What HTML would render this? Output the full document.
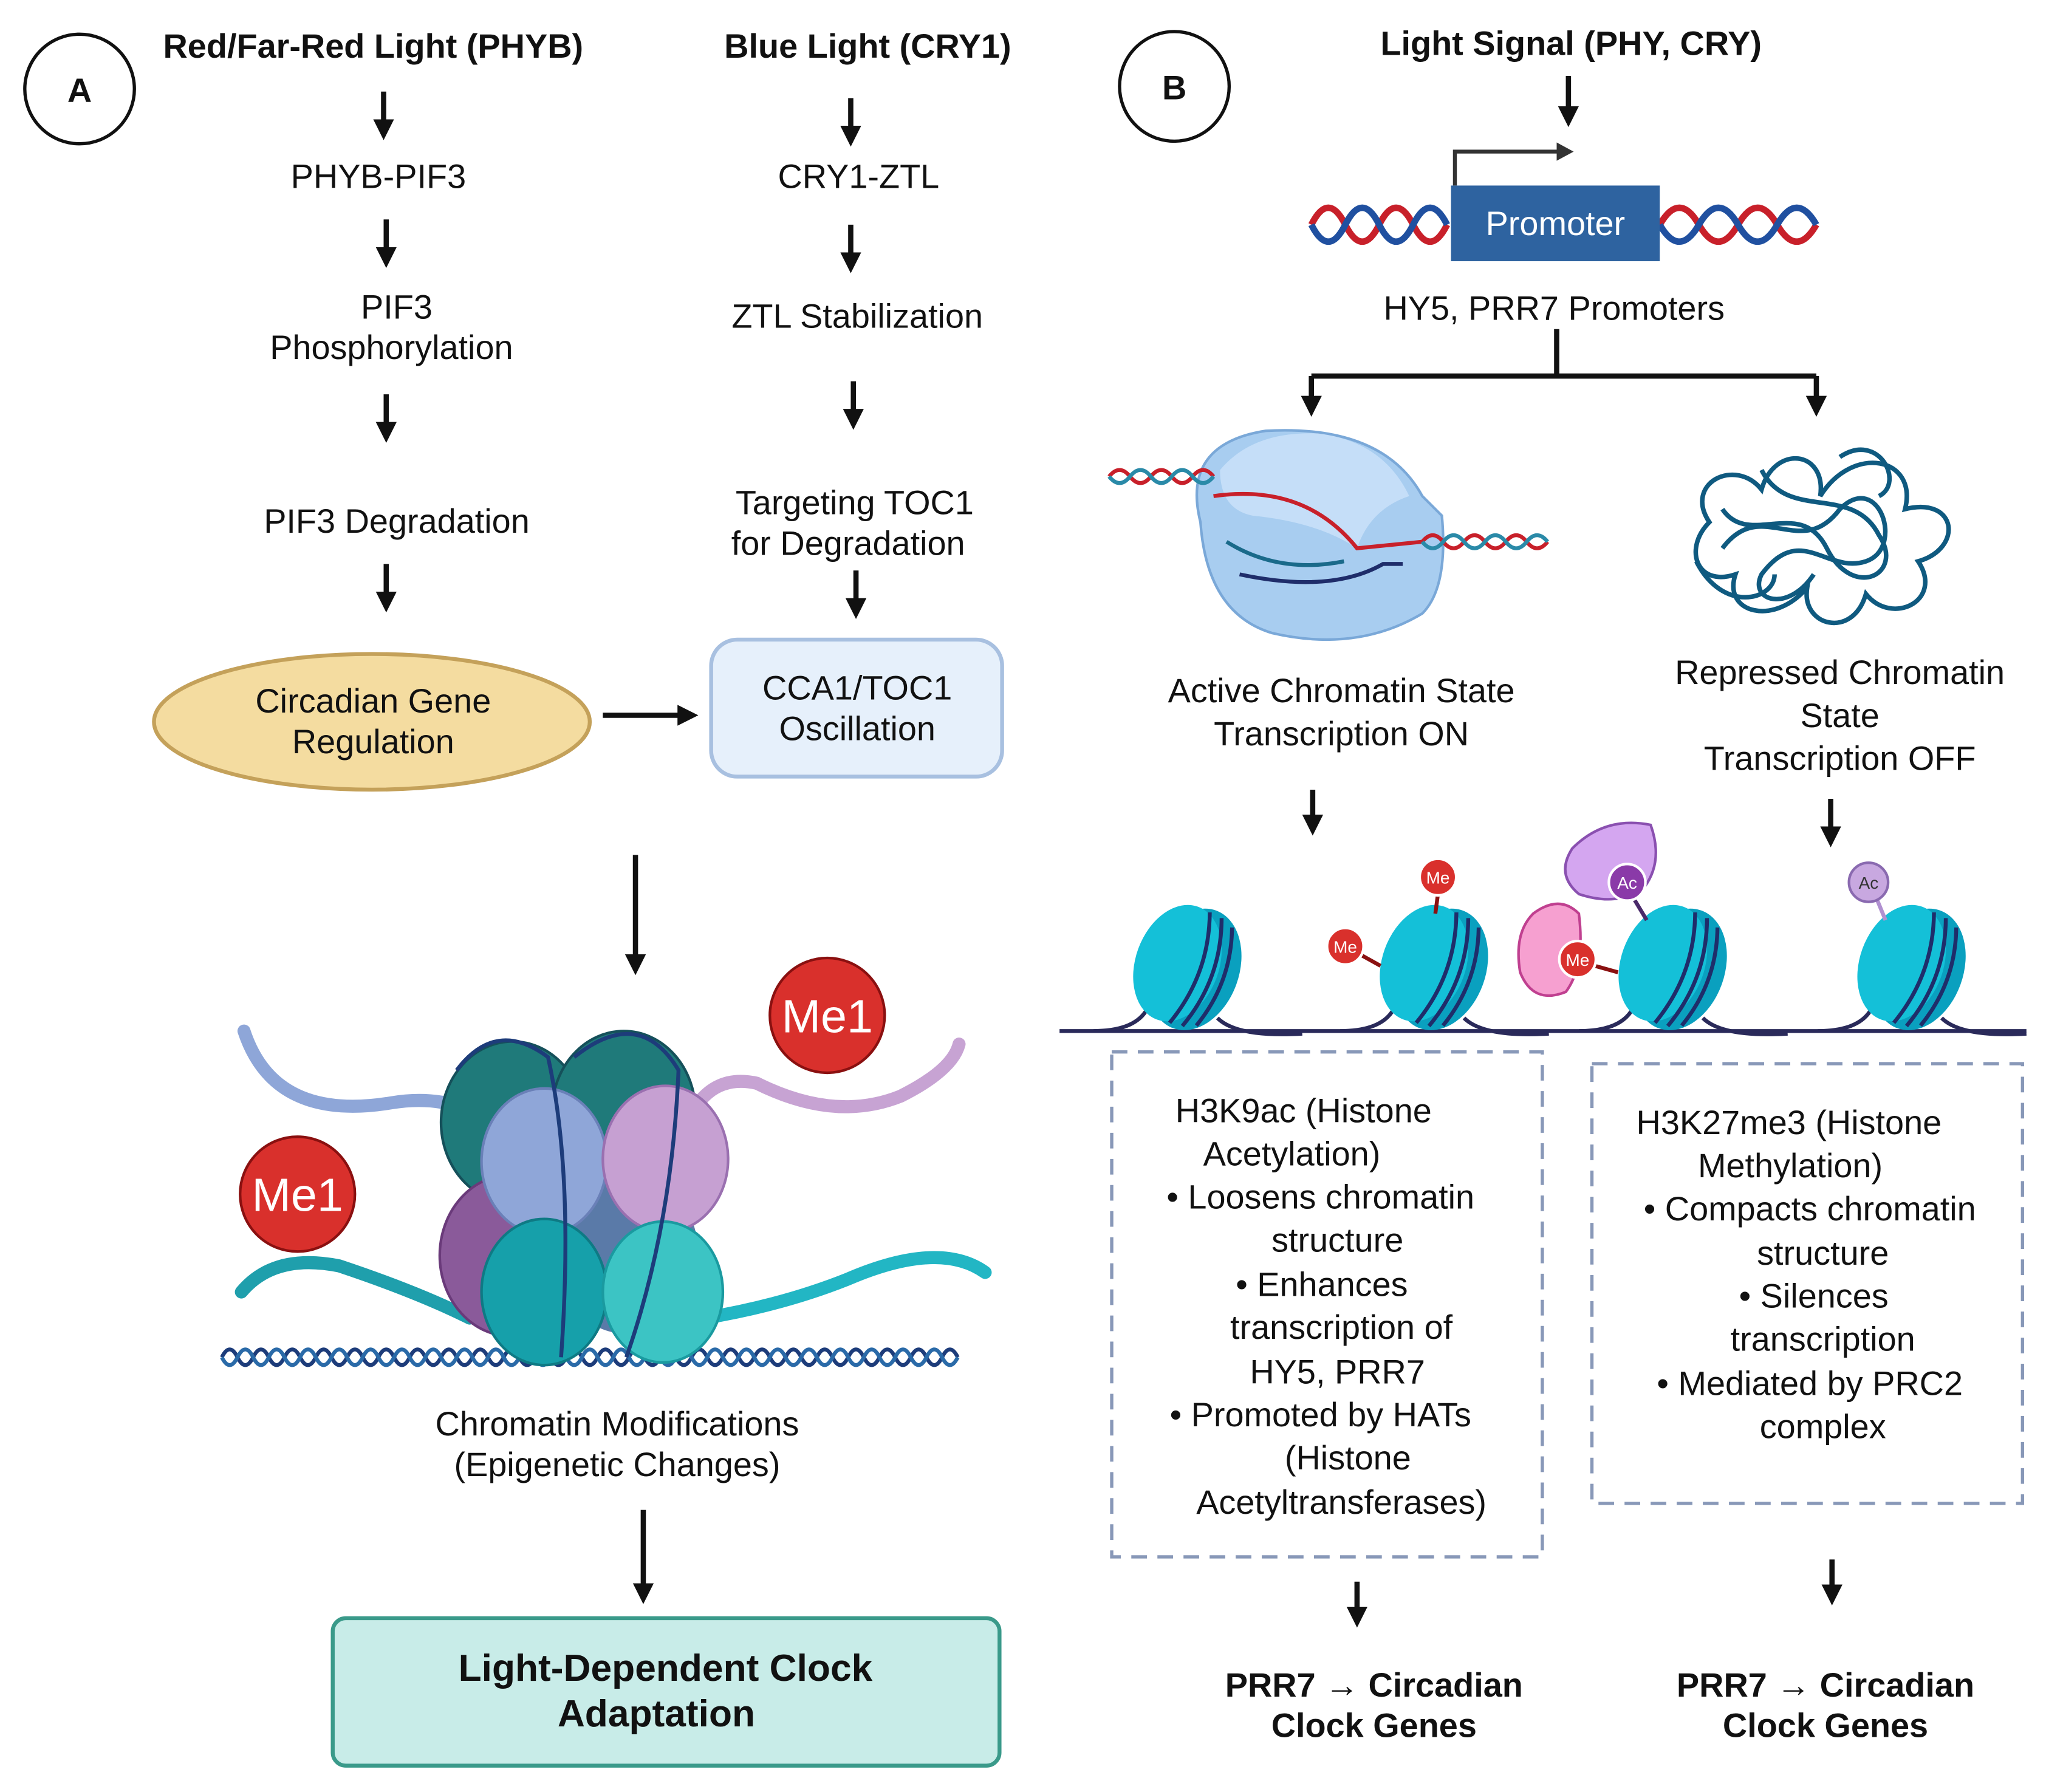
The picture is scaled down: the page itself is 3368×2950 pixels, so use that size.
<!DOCTYPE html>
<html><head><meta charset="utf-8"><style>
html,body{margin:0;padding:0;background:#fff;}
svg{display:block;}
text{font-family:"Liberation Sans",sans-serif;fill:#111;}
.t{font-size:26px;text-anchor:middle;}
.b{font-weight:bold;}
</style></head><body>
<svg width="3368" height="2950" viewBox="0 0 1568 1373" xmlns="http://www.w3.org/2000/svg">
<defs>
<marker id="ah" markerWidth="4" markerHeight="4" refX="2.2" refY="2" orient="auto" markerUnits="strokeWidth"><path d="M0,0 L4,2 L0,4 z" fill="#111"/></marker>
<g id="nuc">
 <path d="M-70,50 Q-40,50 -30,35" stroke="#2a2a5a" stroke-width="3" fill="none"/>
 <path d="M25,40 Q40,55 90,52" stroke="#2a2a5a" stroke-width="3" fill="none"/>
 <g transform="rotate(20)">
  <ellipse cx="8" cy="0" rx="34" ry="48" fill="#0aa0bf"/>
  <ellipse cx="-6" cy="0" rx="32" ry="46" fill="#14c0d8"/>
  <path d="M4,-45 Q20,0 4,45" stroke="#1f2d6a" stroke-width="3" fill="none"/>
  <path d="M14,-44 Q30,0 14,44" stroke="#1f2d6a" stroke-width="3" fill="none"/>
  <path d="M24,-40 Q38,0 24,40" stroke="#1f2d6a" stroke-width="3" fill="none"/>
 </g>
</g>
</defs>
<g stroke="#111" stroke-width="4" fill="none" marker-end="url(#ah)">
<line x1="294" y1="70" x2="294" y2="100"/>
<line x1="652" y1="75" x2="652" y2="105"/>
<line x1="296" y1="168" x2="296" y2="198"/>
<line x1="652" y1="172" x2="652" y2="202"/>
<line x1="296" y1="302" x2="296" y2="332"/>
<line x1="654" y1="292" x2="654" y2="322"/>
<line x1="296" y1="432" x2="296" y2="462"/>
<line x1="656" y1="437" x2="656" y2="467"/>
<line x1="462" y1="548" x2="528" y2="548"/>
<line x1="487" y1="655" x2="487" y2="740"/>
<line x1="493" y1="1157" x2="493" y2="1222"/>
<line x1="1202" y1="58" x2="1202" y2="90"/>
<line x1="1005" y1="288" x2="1005" y2="312"/>
<line x1="1392" y1="288" x2="1392" y2="312"/>
<line x1="1006" y1="605" x2="1006" y2="633"/>
<line x1="1403" y1="612" x2="1403" y2="642"/>
<line x1="1040" y1="1212" x2="1040" y2="1240"/>
<line x1="1404" y1="1195" x2="1404" y2="1223"/>
</g>
<!-- A side -->
<circle cx="61" cy="68" r="42" fill="#fff" stroke="#111" stroke-width="2.5"/>
<text x="61" y="78" class="t b">A</text>
<text x="286" y="44" class="t b">Red/Far-Red Light (PHYB)</text>
<text x="665" y="44" class="t b">Blue Light (CRY1)</text>
<text x="290" y="144" class="t">PHYB-PIF3</text>
<text x="658" y="144" class="t">CRY1-ZTL</text>
<text x="304" y="244" class="t">PIF3</text>
<text x="300" y="275" class="t">Phosphorylation</text>
<text x="657" y="251" class="t">ZTL Stabilization</text>
<text x="304" y="408" class="t">PIF3 Degradation</text>
<text x="655" y="394" class="t">Targeting TOC1</text>
<text x="650" y="425" class="t">for Degradation</text>
<ellipse cx="285" cy="553" rx="167" ry="52" fill="#f4dca0" stroke="#c4a15a" stroke-width="3"/>
<text x="286" y="546" class="t">Circadian Gene</text>
<text x="286" y="577" class="t">Regulation</text>
<rect x="545" y="490" width="223" height="105" rx="20" fill="#e6f0fb" stroke="#a8c0e0" stroke-width="3"/>
<text x="657" y="536" class="t">CCA1/TOC1</text>
<text x="657" y="567" class="t">Oscillation</text>
<!-- nucleosome illustration -->
<path d="M187,790 Q210,860 300,845 Q360,835 400,880" stroke="#8ea6d8" stroke-width="10" fill="none" stroke-linecap="round"/>
<path d="M520,880 Q535,820 580,830 Q640,860 690,840 Q730,820 735,800" stroke="#c7a3d3" stroke-width="10" fill="none" stroke-linecap="round"/>
<path d="M185,990 Q210,960 260,970 Q320,990 360,1010" stroke="#1f9fac" stroke-width="10" fill="none" stroke-linecap="round"/>
<path d="M540,1010 Q600,1000 650,980 Q720,950 755,975" stroke="#22b6c4" stroke-width="10" fill="none" stroke-linecap="round"/>
<path d="M170,1040 q6,-12 12,0 t12,0 t12,0 t12,0 t12,0 t12,0 t12,0 t12,0 t12,0 t12,0 t12,0 t12,0 t12,0 t12,0 t12,0 t12,0 t12,0 t12,0 t12,0 t12,0 t12,0 t12,0 t12,0 t12,0 t12,0 t12,0 t12,0 t12,0 t12,0 t12,0 t12,0 t12,0 t12,0 t12,0 t12,0 t12,0 t12,0 t12,0 t12,0 t12,0 t12,0 t12,0 t12,0 t12,0 t12,0 t12,0 t12,0" stroke="#1d3c7a" stroke-width="3" fill="none"/>
<path d="M170,1040 q6,12 12,0 t12,0 t12,0 t12,0 t12,0 t12,0 t12,0 t12,0 t12,0 t12,0 t12,0 t12,0 t12,0 t12,0 t12,0 t12,0 t12,0 t12,0 t12,0 t12,0 t12,0 t12,0 t12,0 t12,0 t12,0 t12,0 t12,0 t12,0 t12,0 t12,0 t12,0 t12,0 t12,0 t12,0 t12,0 t12,0 t12,0 t12,0 t12,0 t12,0 t12,0 t12,0 t12,0 t12,0 t12,0 t12,0 t12,0" stroke="#2a6aa8" stroke-width="3" fill="none"/>
<ellipse cx="393" cy="860" rx="55" ry="62" fill="#1f7a7a" stroke="#15505a" stroke-width="2"/>
<ellipse cx="478" cy="852" rx="55" ry="62" fill="#1f7a7a" stroke="#15505a" stroke-width="2"/>
<ellipse cx="392" cy="962" rx="55" ry="62" fill="#8a5a9a" stroke="#6a3a7a" stroke-width="2"/>
<ellipse cx="480" cy="960" rx="55" ry="62" fill="#5a7aa8"/>
<ellipse cx="417" cy="890" rx="48" ry="56" fill="#8fa6d8" stroke="#6a80b8" stroke-width="2"/>
<ellipse cx="510" cy="888" rx="48" ry="56" fill="#c6a0d2" stroke="#9a70b0" stroke-width="2"/>
<ellipse cx="417" cy="990" rx="48" ry="56" fill="#16a0aa" stroke="#0e7a84" stroke-width="2"/>
<ellipse cx="508" cy="990" rx="46" ry="54" fill="#3cc4c4" stroke="#1a9aa0" stroke-width="2"/>
<path d="M350,820 Q380,780 420,810 Q440,900 430,1040" stroke="#1d3c7a" stroke-width="3" fill="none"/>
<path d="M440,810 Q490,770 520,820 Q515,940 480,1040" stroke="#1d3c7a" stroke-width="3" fill="none"/>
<circle cx="634" cy="778" r="44" fill="#d9302c" stroke="#8a1010" stroke-width="2"/>
<text x="634" y="791" class="t" style="fill:#fff;font-size:36px">Me1</text>
<circle cx="228" cy="915" r="44" fill="#d9302c" stroke="#8a1010" stroke-width="2"/>
<text x="228" y="928" class="t" style="fill:#fff;font-size:36px">Me1</text>
<text x="473" y="1100" class="t">Chromatin Modifications</text>
<text x="473" y="1131" class="t">(Epigenetic Changes)</text>
<rect x="255" y="1240" width="511" height="113" rx="10" fill="#c8ece8" stroke="#3a9a8a" stroke-width="3"/>
<text x="510" y="1288" class="t b" style="font-size:29px">Light-Dependent Clock</text>
<text x="503" y="1323" class="t b" style="font-size:29px">Adaptation</text>
<!-- B side -->
<circle cx="900" cy="66" r="42" fill="#fff" stroke="#111" stroke-width="2.5"/>
<text x="900" y="76" class="t b">B</text>
<text x="1204" y="42" class="t b">Light Signal (PHY, CRY)</text>
<path d="M1005,172 q13,-26 26,0 t26,0 t26,0 t26,0" stroke="#c8202a" stroke-width="5" fill="none"/>
<path d="M1005,172 q13,26 26,0 t26,0 t26,0 t26,0" stroke="#2050a0" stroke-width="5" fill="none"/>
<path d="M1272,172 q15,-26 30,0 t30,0 t30,0 t30,0" stroke="#c8202a" stroke-width="5" fill="none"/>
<path d="M1272,172 q15,26 30,0 t30,0 t30,0 t30,0" stroke="#2050a0" stroke-width="5" fill="none"/>
<rect x="1112" y="142" width="160" height="58" fill="#2e63a0"/>
<text x="1192" y="180" class="t" style="fill:#fff">Promoter</text>
<path d="M1115,142 V116 H1195" stroke="#333" stroke-width="3" fill="none"/>
<path d="M1193,109 L1206,116 L1193,123z" fill="#333"/>
<text x="1191" y="245" class="t">HY5, PRR7 Promoters</text>
<path d="M1193,252 V288 M1005,288 H1392" stroke="#111" stroke-width="4" fill="none"/>
<!-- active chromatin -->
<path d="M920,400 Q905,340 970,330 Q1060,325 1090,380 L1105,395 Q1110,450 1090,470 Q1040,500 975,485 Q925,470 920,400z" fill="#a8cdf0" stroke="#7aa8d8" stroke-width="2"/>
<path d="M935,360 Q960,330 1010,332 Q1060,338 1080,380 Q1050,390 1040,420 Q1010,400 960,395 Q935,390 935,360z" fill="#c8e0f8" opacity="0.9"/>
<path d="M850,365 q8,-10 16,0 t16,0 t16,0 t16,0 t16,0" stroke="#c8202a" stroke-width="3" fill="none"/>
<path d="M850,365 q8,10 16,0 t16,0 t16,0 t16,0 t16,0" stroke="#2a8aa8" stroke-width="3" fill="none"/>
<path d="M930,380 Q1000,370 1040,420 L1090,415 q8,-10 16,0 t16,0 t16,0 t16,0 t16,0 t16,0" stroke="#c8202a" stroke-width="3" fill="none"/>
<path d="M1090,415 q8,10 16,0 t16,0 t16,0 t16,0 t16,0 t16,0" stroke="#2a8aa8" stroke-width="3" fill="none"/>
<path d="M950,440 Q1020,455 1060,432 L1075,432" stroke="#1f2d6a" stroke-width="3" fill="none"/>
<path d="M940,415 Q980,440 1030,430" stroke="#1a6a8a" stroke-width="3" fill="none"/>
<!-- repressed tangle -->
<g stroke="#0f5a80" stroke-width="3.5" fill="none">
<path d="M1310,400 C1290,370 1330,350 1350,375 C1360,340 1400,345 1395,380 C1420,340 1470,350 1460,390 C1500,380 1505,420 1470,430 C1490,460 1450,480 1430,455 C1420,490 1380,480 1385,450 C1360,480 1320,470 1330,440 C1300,450 1290,420 1310,400z"/>
<path d="M1320,420 C1350,380 1380,430 1410,390 C1440,360 1460,420 1430,430 C1400,440 1380,400 1350,440 C1340,460 1370,470 1390,440"/>
<path d="M1350,360 C1370,400 1420,370 1440,410 C1460,440 1420,460 1400,420 C1380,380 1340,420 1320,390"/>
<path d="M1410,350 C1440,330 1460,370 1440,380 M1300,430 C1320,470 1360,460 1360,440"/>
</g>
<text x="1028" y="538" class="t">Active Chromatin State</text>
<text x="1028" y="571" class="t">Transcription ON</text>
<text x="1410" y="524" class="t">Repressed Chromatin</text>
<text x="1410" y="557" class="t">State</text>
<text x="1410" y="590" class="t">Transcription OFF</text>
<!-- nucleosome row -->
<line x1="812" y1="790" x2="1553" y2="790" stroke="#2a2a5a" stroke-width="3"/>
<use href="#nuc" x="908" y="740"/>
<use href="#nuc" x="1097" y="740"/>
<use href="#nuc" x="1280" y="740"/>
<use href="#nuc" x="1463" y="740"/>
<line x1="1102" y1="685" x2="1100" y2="700" stroke="#8a1010" stroke-width="3"/>
<circle cx="1102" cy="672" r="14" fill="#d9302c" stroke="#fff" stroke-width="2"/>
<text x="1102" y="677" class="t" style="fill:#fff;font-size:13px">Me</text>
<line x1="1040" y1="730" x2="1058" y2="740" stroke="#8a1010" stroke-width="3"/>
<circle cx="1031" cy="725" r="14" fill="#d9302c" stroke="#fff" stroke-width="2"/>
<text x="1031" y="730" class="t" style="fill:#fff;font-size:13px">Me</text>
<path d="M1205,650 Q1230,625 1265,632 Q1275,660 1260,680 Q1240,695 1210,685 Q1192,670 1205,650z" fill="#d4a6f0" stroke="#8a50b0" stroke-width="2"/>
<line x1="1250" y1="685" x2="1262" y2="705" stroke="#4a2a6a" stroke-width="3"/>
<circle cx="1247" cy="676" r="14" fill="#8a3aa8" stroke="#fff" stroke-width="2"/>
<text x="1247" y="681" class="t" style="fill:#fff;font-size:13px">Ac</text>
<path d="M1175,700 Q1195,685 1210,700 Q1215,740 1200,760 Q1175,770 1165,745 Q1160,715 1175,700z" fill="#f6a0d0" stroke="#c04090" stroke-width="2"/>
<line x1="1215" y1="738" x2="1240" y2="745" stroke="#8a1010" stroke-width="3"/>
<circle cx="1209" cy="735" r="14" fill="#d9302c" stroke="#fff" stroke-width="2"/>
<text x="1209" y="740" class="t" style="fill:#fff;font-size:13px">Me</text>
<line x1="1438" y1="688" x2="1445" y2="705" stroke="#b090d0" stroke-width="3"/>
<circle cx="1432" cy="676" r="15" fill="#c8a8e0" stroke="#8a6ab0" stroke-width="2"/>
<text x="1432" y="681" class="t" style="fill:#333;font-size:13px">Ac</text>
<!-- dashed boxes -->
<rect x="852" y="806" width="330" height="387" fill="none" stroke="#8898b8" stroke-width="2.5" stroke-dasharray="12,8"/>
<text x="999" y="860" class="t">H3K9ac (Histone</text>
<text x="990" y="893" class="t">Acetylation)</text>
<text x="1012" y="926" class="t">•  Loosens chromatin</text>
<text x="1025" y="959" class="t">structure</text>
<text x="1013" y="993" class="t">•  Enhances</text>
<text x="1028" y="1026" class="t">transcription of</text>
<text x="1025" y="1060" class="t">HY5, PRR7</text>
<text x="1012" y="1093" class="t">•  Promoted by HATs</text>
<text x="1033" y="1126" class="t">(Histone</text>
<text x="1028" y="1160" class="t">Acetyltransferases)</text>
<rect x="1220" y="815" width="330" height="337" fill="none" stroke="#8898b8" stroke-width="2.5" stroke-dasharray="12,8"/>
<text x="1371" y="869" class="t">H3K27me3 (Histone</text>
<text x="1372" y="902" class="t">Methylation)</text>
<text x="1387" y="935" class="t">•  Compacts chromatin</text>
<text x="1397" y="969" class="t">structure</text>
<text x="1390" y="1002" class="t">•  Silences</text>
<text x="1397" y="1035" class="t">transcription</text>
<text x="1387" y="1069" class="t">•  Mediated by PRC2</text>
<text x="1397" y="1102" class="t">complex</text>
<text x="1053" y="1300" class="t b">PRR7 → Circadian</text>
<text x="1053" y="1331" class="t b">Clock Genes</text>
<text x="1399" y="1300" class="t b">PRR7 → Circadian</text>
<text x="1399" y="1331" class="t b">Clock Genes</text>
</svg>
</body></html>
